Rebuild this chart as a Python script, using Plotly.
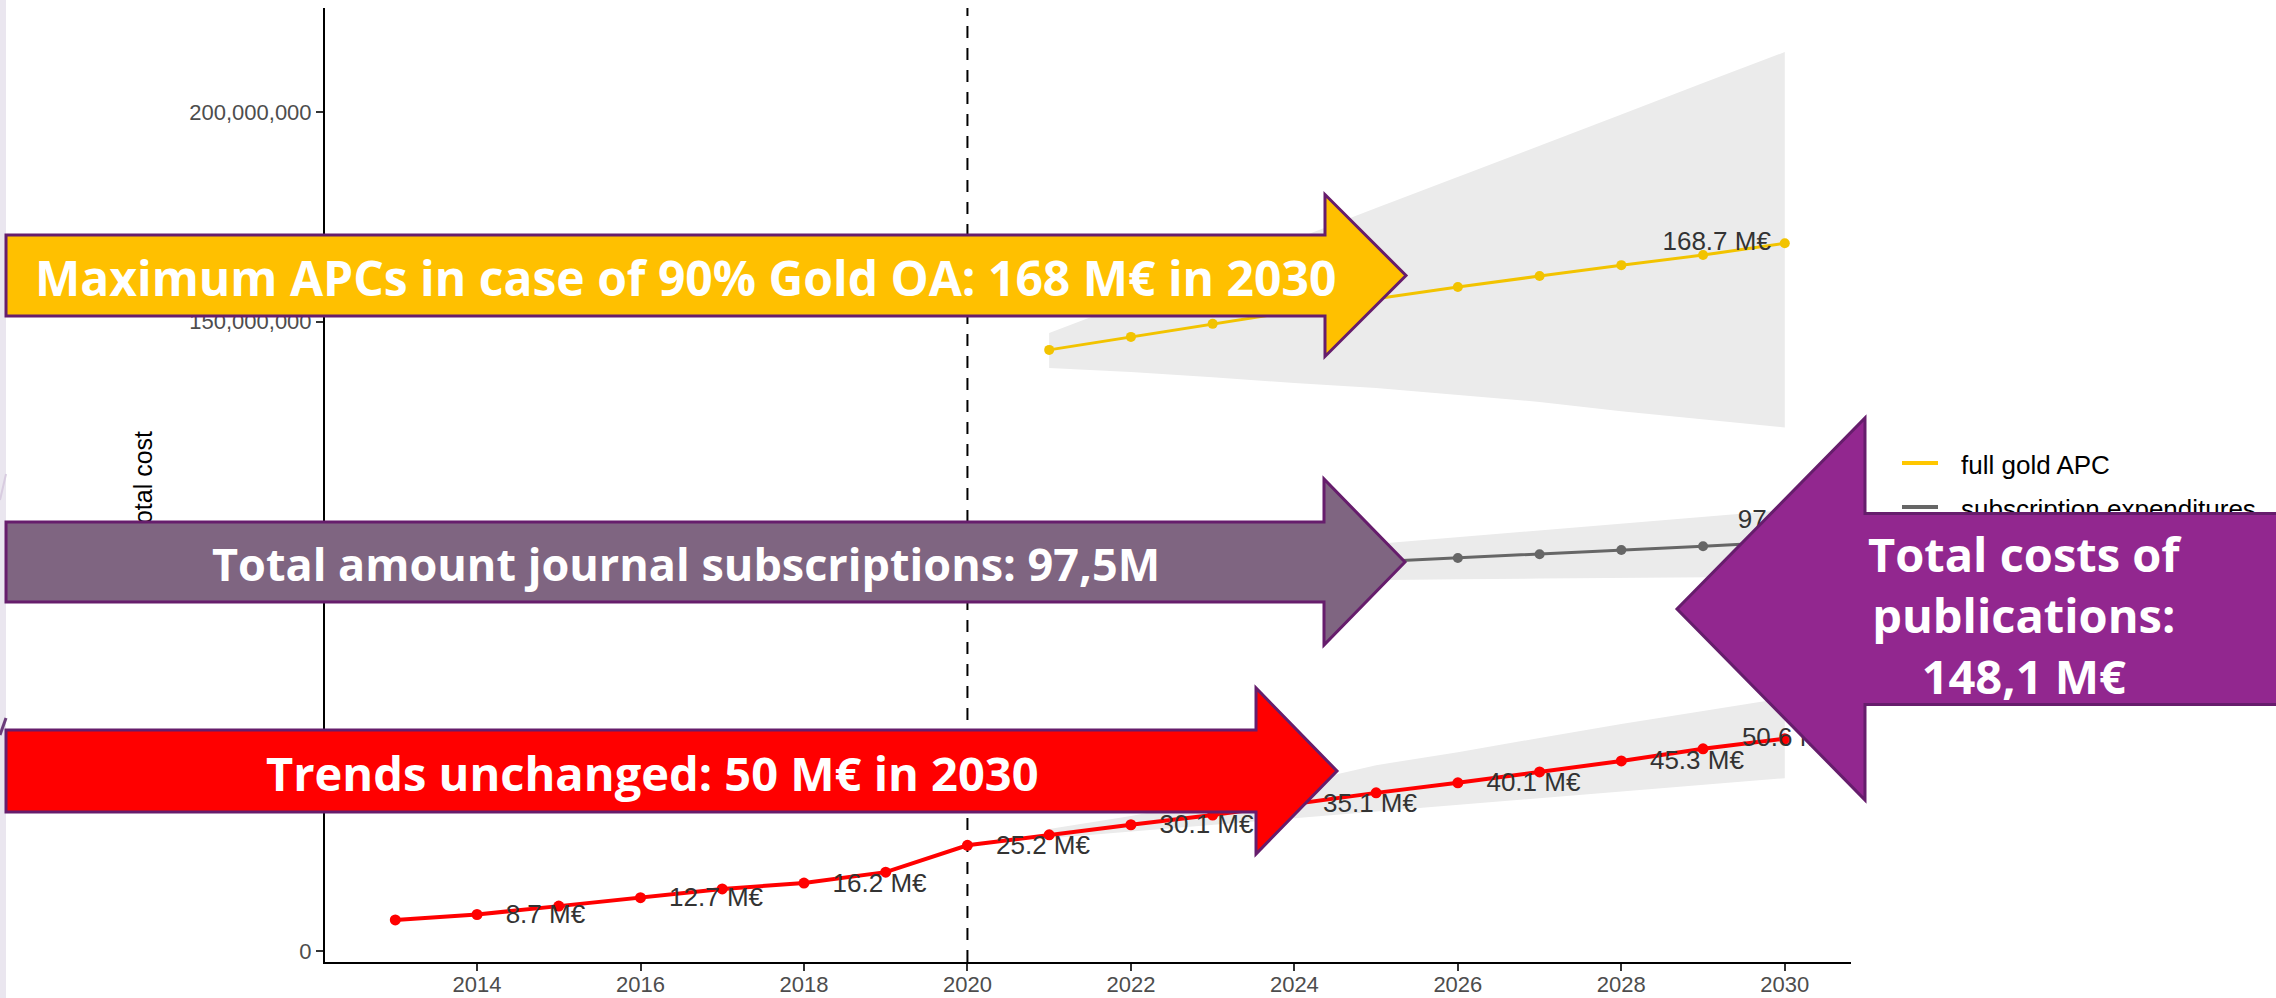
import plotly.graph_objects as go

# ---------------- data (values in M€) ----------------
hist_years = list(range(2013, 2031))
trend_values = [7.4, 8.7, 10.7, 12.7, 14.8, 16.2, 18.8, 25.2, 27.7, 30.1,
                32.4, 35.1, 37.7, 40.1, 42.7, 45.3, 48.2, 50.6]

fc_years = list(range(2021, 2031))
trend_upper = [29.1, 32.2, 35.8, 39.8, 44.3, 47.4, 50.8, 54.1, 57.2, 60.3]
trend_lower = [26.9, 28.5, 30.1, 31.7, 33.3, 34.9, 36.5, 38.0, 39.6, 41.2]

gold_values = [143.3, 146.4, 149.5, 152.5, 155.5, 158.3, 160.9, 163.5, 165.9, 168.7]
gold_upper = [147.3, 154.7, 162.2, 169.6, 177.1, 184.5, 192.0, 199.4, 206.9, 214.3]
gold_lower = [139.0, 138.0, 136.8, 135.4, 134.2, 132.5, 130.9, 128.7, 126.8, 124.8]

subs_values = [89.0, 89.9, 90.9, 91.8, 92.8, 93.7, 94.6, 95.6, 96.5, 97.5]
subs_upper = [90.6, 92.2, 93.8, 95.4, 97.0, 98.6, 100.2, 101.9, 103.5, 105.1]
subs_lower = [87.6, 87.8, 88.0, 88.2, 88.4, 88.6, 88.8, 88.9, 89.1, 89.2]

trend_label_years = [2014, 2016, 2018, 2020, 2022, 2024, 2026, 2028, 2030]
gold_label_years = [2030]
subs_label_years = [2030]

y_ticks = [0, 50e6, 100e6, 150e6, 200e6]
x_ticks = [2014, 2016, 2018, 2020, 2022, 2024, 2026, 2028, 2030]
split_year = 2020

legend_names = ["full gold APC", "subscription expenditures"]
y_title = "total cost"
callout_gold = "Maximum APCs in case of 90% Gold OA: 168 M€ in 2030"
callout_subs = "Total amount journal subscriptions: 97,5M"
callout_trend = "Trends unchanged: 50 M€ in 2030"
callout_total = "Total costs of<br>publications:<br>148,1 M€"

# ---------------- styling / geometry ----------------
W, H = 2276, 998
M = 1e6
RED, GOLD, GREY, RIBBON = "#FF0000", "#F2C300", "#666666", "#EBEBEB"
TXT = "#333333"
LBL_FONT = "Liberation Sans"
CALLOUT_FONT = "Open Sans"
OUTLINE = "#661D6C"

plot_left, plot_right, plot_top, plot_bottom = 325, 1851, 8, 962
x_range = [2012.14, 2030.81]
y_range = [-2.62e6, 224.8e6]
units_per_px = (y_range[1] - y_range[0]) / (plot_bottom - plot_top)


def px(x):
    return x / W


def py(y):
    return 1 - y / H


def mval(v):
    return [a * M for a in v]


fig = go.Figure()

# ribbons
for ub, lb in [(gold_upper, gold_lower), (subs_upper, subs_lower), (trend_upper, trend_lower)]:
    fig.add_trace(go.Scatter(
        x=fc_years + fc_years[::-1], y=mval(ub) + mval(lb)[::-1],
        fill="toself", fillcolor=RIBBON, line=dict(width=0),
        mode="lines", hoverinfo="skip", showlegend=False))

# lines
fig.add_trace(go.Scatter(x=hist_years, y=mval(trend_values), mode="lines+markers",
                         line=dict(color=RED, width=4), marker=dict(size=11, color=RED),
                         showlegend=False))
fig.add_trace(go.Scatter(x=fc_years, y=mval(gold_values), mode="lines+markers",
                         line=dict(color=GOLD, width=3), marker=dict(size=10, color=GOLD),
                         showlegend=False))
fig.add_trace(go.Scatter(x=fc_years, y=mval(subs_values), mode="lines+markers",
                         line=dict(color=GREY, width=3), marker=dict(size=10, color=GREY),
                         showlegend=False))


# value labels
def label_trace(years, all_years, values, styles):
    xs, ys, txt, pos = [], [], [], []
    for yr, (tp, dx, dy) in zip(years, styles):
        v = values[all_years.index(yr)]
        xs.append(yr + dx)
        ys.append(v * M - dy * units_per_px)
        txt.append(f"{v:.1f} M€")
        pos.append(tp)
    return go.Scatter(x=xs, y=ys, text=txt, mode="text", textposition=pos,
                      textfont=dict(family=LBL_FONT, size=26, color=TXT),
                      hoverinfo="skip", showlegend=False)


trend_styles = [("middle right", 0.35, 2)] * (len(trend_label_years) - 1) + [("middle center", 0.05, 1)]
fig.add_trace(label_trace(trend_label_years, hist_years, trend_values, trend_styles))
fig.add_trace(label_trace(gold_label_years, fc_years, gold_values, [("middle left", -0.17, 0)]))
fig.add_trace(label_trace(subs_label_years, fc_years, subs_values, [("middle center", 0.0, -21)]))

shapes = []
# left slide strip decoration
shapes.append(dict(type="rect", xref="paper", yref="paper", x0=0, x1=px(6), y0=0, y1=1,
                   fillcolor="#EAE6EF", line=dict(width=0), layer="below"))
shapes.append(dict(type="line", xref="paper", yref="paper", x0=0, y0=py(500), x1=px(6), y1=py(474),
                   line=dict(color="#D8CCE0", width=2), layer="above"))
shapes.append(dict(type="line", xref="paper", yref="paper", x0=0, y0=py(735), x1=px(6), y1=py(718),
                   line=dict(color="#6B3C7A", width=3), layer="above"))

# dashed split line
shapes.append(dict(type="line", xref="x", yref="y domain", x0=split_year, x1=split_year, y0=0, y1=1,
                   line=dict(color="black", width=2, dash="12px,10px"), layer="below"))

# y axis title (drawn as shape label so the callouts cover it)
shapes.append(dict(type="rect", xref="paper", yref="paper", x0=px(126), x1=px(156), y0=py(541), y1=py(421),
                   line=dict(width=0), fillcolor="rgba(0,0,0,0)", layer="above",
                   label=dict(text=y_title, textangle=-90, textposition="middle center",
                              font=dict(family=LBL_FONT, size=25, color="black"))))

# legend
for i, (name, col) in enumerate(zip(legend_names, [GOLD, GREY])):
    yc = 463 + 44 * i
    shapes.append(dict(type="line", xref="paper", yref="paper", x0=px(1902), x1=px(1938), y0=py(yc), y1=py(yc),
                       line=dict(color="#FFC700" if i == 0 else GREY, width=4), layer="above"))
    shapes.append(dict(type="rect", xref="paper", yref="paper", x0=px(1955), x1=px(2270), y0=py(yc + 16),
                       y1=py(yc - 16), line=dict(width=0), fillcolor="rgba(0,0,0,0)", layer="above",
                       label=dict(text=name, textposition="middle left", padding=3,
                                  font=dict(family=LBL_FONT, size=26, color="black"))))


def arrow_path(pts):
    return "M " + " L ".join(f"{px(x):.5f},{py(y):.5f}" for x, y in pts) + " Z"


def right_arrow(x0, yc, bh, hx, hh, tip):
    return [(x0, yc - bh), (hx, yc - bh), (hx, yc - hh), (tip, yc), (hx, yc + hh), (hx, yc + bh), (x0, yc + bh)]


def left_arrow(x1, yc, bh, hx, hh, tip):
    return [(x1, yc - bh), (hx, yc - bh), (hx, yc - hh), (tip, yc), (hx, yc + hh), (hx, yc + bh), (x1, yc + bh)]


arrows = [
    (right_arrow(6, 275.5, 40.5, 1325, 81, 1406), "#FFC000"),
    (right_arrow(6, 562, 40, 1324, 83, 1405), "#7F6581"),
    (right_arrow(6, 771, 41, 1256, 83, 1337), "#FF0000"),
    (left_arrow(2300, 609, 95.5, 1865, 191, 1677), "#92278F"),
]
for pts, col in arrows:
    shapes.append(dict(type="path", xref="paper", yref="paper", path=arrow_path(pts),
                       fillcolor=col, line=dict(color=OUTLINE, width=3), layer="above"))

annotations = []
for text, (cx, cy), size in [(callout_gold, (685, 277), 48), (callout_subs, (686, 563), 45),
                             (callout_trend, (652, 773), 47), (callout_total, (2025, 615), 47)]:
    annotations.append(dict(xref="paper", yref="paper", x=px(cx), y=py(cy), xanchor="center", yanchor="middle",
                            text=f"<b>{text}</b>", showarrow=False, align="center",
                            font=dict(family=CALLOUT_FONT, size=size, color="white")))

axis_common = dict(showgrid=False, zeroline=False, showline=True, linecolor="black", linewidth=2,
                   ticks="outside", ticklen=7, tickwidth=2, tickcolor="#333333", automargin=False,
                   tickfont=dict(family=LBL_FONT, size=22, color="#4D4D4D"))

fig.update_layout(
    width=W, height=H, margin=dict(l=0, r=0, t=0, b=0, autoexpand=False),
    paper_bgcolor="white", plot_bgcolor="white", showlegend=False,
    shapes=shapes, annotations=annotations,
    xaxis=dict(domain=[px(plot_left), px(plot_right)], range=x_range, tickvals=x_ticks,
               ticklabelstandoff=-5, **axis_common),
    yaxis=dict(domain=[py(plot_bottom), py(plot_top)], range=y_range, tickvals=y_ticks, tickformat=",",
               **axis_common),
)

fig.write_html("out.html", config={"displayModeBar": False},
               post_script="document.body.style.margin='0';document.body.style.overflow='hidden';")
